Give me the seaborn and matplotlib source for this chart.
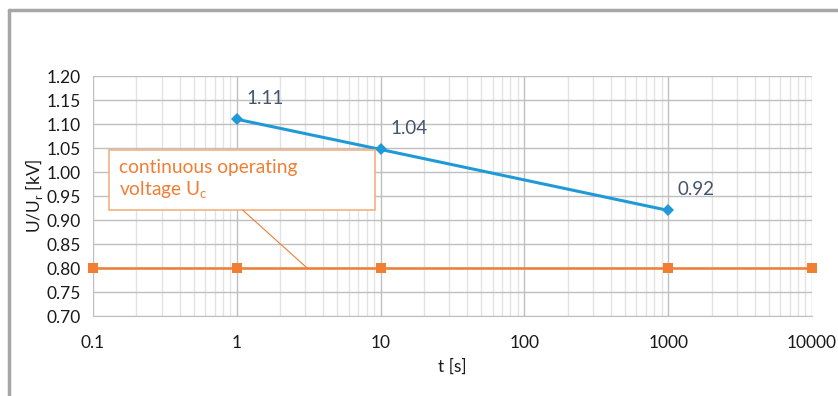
import pandas as pd
import numpy as np
import matplotlib
matplotlib.use('Agg')
import matplotlib.pyplot as plt
from matplotlib.patches import Rectangle
from matplotlib.ticker import FixedLocator, LogLocator, NullFormatter
import seaborn as sns

# Datos
t_max = [1, 10, 1000]
u_max = [1.11, 1.047, 0.92]
etiquetas_max = ['1.11', '1.04', '0.92']

t_uc = [0.1, 1, 10, 1000, 10000]
u_uc = [0.8, 0.8, 0.8, 0.8, 0.8]

ticks_x = [0.1, 1, 10, 100, 1000, 10000]
etiquetas_x = ['0.1', '1', '10', '100', '1000', '10000']
ticks_y = [0.70, 0.75, 0.80, 0.85, 0.90, 0.95, 1.00, 1.05, 1.10, 1.15, 1.20]

azul = '#1F9AD6'
naranja = '#F07E34'

sns.set_style('white')
plt.rcParams['font.family'] = ['Lato', 'DejaVu Sans']

df_max = pd.DataFrame({'t': t_max, 'u': u_max})
df_uc = pd.DataFrame({'t': t_uc, 'u': u_uc})

fig = plt.figure(figsize=(8.38, 3.96), dpi=100)
ax = fig.add_axes([0.111, 0.202, 0.858, 0.606])

# Marco exterior (recortado)
fig.add_artist(plt.Line2D([0.0107, 0.0107], [0, 0.975], color='#A6A6A6', lw=2.5, transform=fig.transFigure))
fig.add_artist(plt.Line2D([0.0107, 1.0], [0.975, 0.975], color='#A6A6A6', lw=2.5, transform=fig.transFigure))

sns.lineplot(x='t', y='u', data=df_uc, color=naranja, marker='s', markersize=7,
             markeredgewidth=0, linewidth=1.8, ax=ax, zorder=3, clip_on=False)
sns.lineplot(x='t', y='u', data=df_max, color=azul, marker='D', markersize=6,
             markeredgewidth=0, linewidth=2.2, ax=ax, zorder=4, clip_on=False)

ax.set_xscale('log')
ax.set_xlim(0.1, 10000)
ax.set_ylim(0.70, 1.20)
ax.xaxis.set_major_locator(FixedLocator(ticks_x))
ax.set_xticklabels(etiquetas_x)
ax.xaxis.set_minor_locator(LogLocator(base=10, subs=np.arange(2, 10)))
ax.xaxis.set_minor_formatter(NullFormatter())
ax.set_yticks(ticks_y)
ax.set_yticklabels([f'{v:.2f}' for v in ticks_y])

ax.grid(which='major', axis='both', color='#BFBFBF', linewidth=1.0)
ax.grid(which='minor', axis='x', color='#E3E3E3', linewidth=1.0)
ax.set_axisbelow(True)

for lado in ['top', 'right', 'left']:
    ax.spines[lado].set_visible(False)
ax.spines['bottom'].set_color('#BFBFBF')

ax.tick_params(axis='both', which='major', direction='out', length=5, color='#BFBFBF',
               labelsize=12.5, labelcolor='#1a1a1a')
ax.tick_params(axis='x', which='major', pad=9)
ax.tick_params(axis='x', which='minor', length=0)

ax.set_xlabel('t [s]', fontsize=12.5, color='#1a1a1a', labelpad=5)
ax.set_ylabel('U/U$_\\mathregular{r}$ [kV]', fontsize=12.5, color='#1a1a1a', labelpad=1)

# Etiquetas de datos
for t, u, txt in zip(t_max, u_max, etiquetas_max):
    ax.annotate(txt, xy=(t, u), xytext=(7, 15), textcoords='offset points',
                fontsize=13.5, color='#44546A', va='center')

# Cuadro de texto para Uc
ax.add_patch(Rectangle((0.022, 0.442), 0.370, 0.250, transform=ax.transAxes,
                       facecolor='white', edgecolor='#F4B183', linewidth=1.2, zorder=5))
ax.text(0.036, 0.567, 'continuous operating\nvoltage U$_\\mathregular{c}$', transform=ax.transAxes,
        fontsize=13.8, color=naranja, va='center', ha='left', linespacing=1.2, zorder=6)
ax.annotate('', xy=(3.08, 0.8), xycoords='data', xytext=(0.208, 0.442), textcoords='axes fraction',
            arrowprops=dict(arrowstyle='-', color=naranja, linewidth=0.8, shrinkA=0, shrinkB=0),
            zorder=5)

fig.savefig('out.png', dpi=100)
